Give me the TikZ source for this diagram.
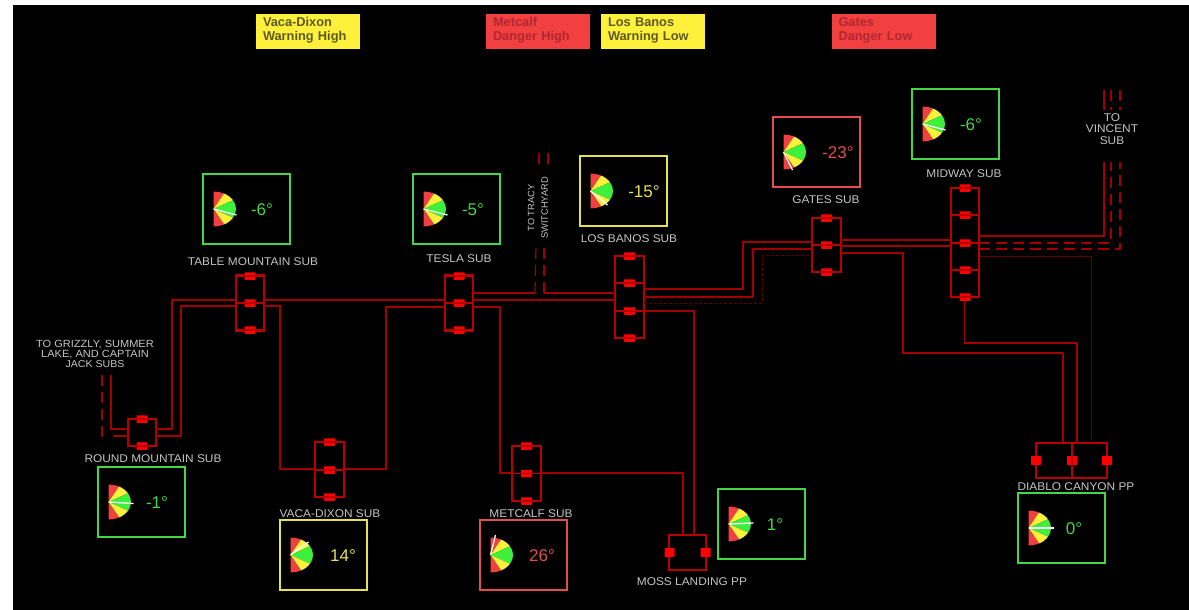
\documentclass[tikz,border=0pt]{standalone}
\usepackage{fontspec}
\usetikzlibrary{calc}
\setmainfont{Liberation Sans}
\newfontfamily\labfont[FakeStretch=1.06]{Liberation Sans}
\definecolor{bus}{HTML}{A00000}
\definecolor{busdim}{HTML}{600000}
\definecolor{busbright}{HTML}{B80000}
\definecolor{sqr}{HTML}{FF0000}
\definecolor{okc}{HTML}{44D644}
\definecolor{warnc}{HTML}{E6E24A}
\definecolor{dangc}{HTML}{E24E4E}
\definecolor{gred}{HTML}{F24040}
\definecolor{gyel}{HTML}{FFF03C}
\definecolor{ggrn}{HTML}{3CF03C}
\definecolor{lab}{HTML}{C4C4C4}
\definecolor{alred}{HTML}{B02830}
\definecolor{alyel}{HTML}{5C5A20}
\tikzset{
  busline/.style={draw=bus,line width=1.2pt},
  busdash/.style={busline,dash pattern=on 11pt off 6pt},
  busfaint/.style={draw=busdim,line width=1pt},
  busrect/.style={draw=busbright,line width=1.2pt,rectangle,inner sep=0pt,outer sep=0pt},
  sq/.style={fill=sqr,rectangle,rounded corners=0.6pt,inner sep=0pt,outer sep=0pt,minimum width=11pt,minimum height=7.5pt},
  sqv/.style={sq,minimum width=10pt,minimum height=9pt},
  gbox/.style={rectangle,draw,line width=1.5pt,fill=black,inner sep=0pt,outer sep=0pt,minimum width=87pt,minimum height=70pt},
  gval/.style={inner sep=0pt,font=\fontsize{17}{17}\selectfont},
  sublab/.style={text=lab,inner sep=0pt,align=center,font=\labfont\fontsize{11.2}{11.5}\selectfont},
  alertbox/.style={rectangle,inner sep=0pt,minimum width=104pt,minimum height=35pt,text width=90pt,text depth=19.8pt,align=left,font=\bfseries\fontsize{12.8}{14.5}\selectfont},
  alertw/.style={alertbox,fill=gyel,text=alyel},
  alertd/.style={alertbox,fill=gred,text=alred}
}
% name, left x, top y, colour, value x, value, needle dx, dy
\newcommand{\gaugebox}[8]{%
  \node[gbox,draw=#4,anchor=north west] (#1) at (#2,#3) {};
  \coordinate (#1c) at ($(#2,#3)+(10.5,35)$);
  \fill[gred] (#1c) -- ++(90:22.5pt and 17.5pt) arc[start angle=90,end angle=62,x radius=22.5pt,y radius=17.5pt] -- cycle;
  \fill[gyel] (#1c) -- ++(62:22.5pt and 17.5pt) arc[start angle=62,end angle=30,x radius=22.5pt,y radius=17.5pt] -- cycle;
  \fill[ggrn] (#1c) -- ++(30:22.5pt and 17.5pt) arc[start angle=30,end angle=-30,x radius=22.5pt,y radius=17.5pt] -- cycle;
  \fill[gyel] (#1c) -- ++(-30:22.5pt and 17.5pt) arc[start angle=-30,end angle=-62,x radius=22.5pt,y radius=17.5pt] -- cycle;
  \fill[gred] (#1c) -- ++(-62:22.5pt and 17.5pt) arc[start angle=-62,end angle=-90,x radius=22.5pt,y radius=17.5pt] -- cycle;
  \draw[white,line width=1.3pt] (#1c) -- ++(#7,#8);
  \node[gval,text=#4] (#1v) at ($(#2,#3)+(#5,36)$) {#6};
}
% vertical bus frame: name, left, top, right, bottom; squares named nameN
\newcommand{\busframe}[5]{%
  \node[busrect,minimum width={#4-#2},minimum height={#5-#3}] (#1) at ({(#2+#4)/2},{(#3+#5)/2}) {};
}
% square on a vertical frame with its cross bar: frame, index, y
\newcommand{\bussq}[3]{%
  \node[sq] (#1#2) at (#1.center |- 0,#3) {};
  \draw[draw=busbright,line width=1.2pt] (#1.west |- #1#2) -- (#1.east |- #1#2);
}
\begin{document}
\begin{tikzpicture}[x=1pt,y=-1pt]
\useasboundingbox (0,0) rectangle (1189,610);
\fill[white] (0,0) rectangle (1189,610);
\fill[black] (13,5) rectangle (1189,610);

% alerts
\node[alertw] (a1) at (308,31.5) {Vaca-Dixon\\Warning High};
\node[alertd] (a2) at (538,31.5) {Metcalf\\Danger High};
\node[alertw] (a3) at (653,31.5) {Los Banos\\Warning Low};
\node[alertd] (a4) at (883.5,31.5) {Gates\\Danger Low};

% bus frames
\busframe{rm}{128}{419}{156}{446}
\busframe{tm}{236}{275}{264}{331}
\busframe{ts}{445}{275}{473}{331}
\busframe{lb}{615}{256}{644}{338}
\busframe{gt}{812}{218}{841}{272}
\busframe{mw}{951}{188}{979}{297}
\busframe{vd}{315}{442}{344}{497}
\busframe{mc}{512}{446}{541}{501}
\busframe{ml}{669}{535}{706}{570}
\busframe{dc}{1036}{443}{1107}{478}

% free ends
\coordinate (griz1) at (102,375);
\coordinate (griz1b) at (102,437);
\coordinate (griz2) at (111,375);
\coordinate (griz3) at (113,436);
\coordinate (tr1) at (536,245);
\coordinate (tr2) at (544,245);
\coordinate (tr1t) at (539,153);
\coordinate (tr1u) at (539,166);
\coordinate (tr2t) at (548,153);
\coordinate (tr2u) at (548,166);
\coordinate (vi1) at (1104,162);
\coordinate (vi2) at (1111,162);
\coordinate (vi3) at (1120,162);

% connectors
\draw[busline] (griz2) -- (111,429) -- (rm.west |- 0,429);
\draw[busdash] (griz1) -- (griz1b);
\draw[busline] (griz3) -- (rm.west |- 0,436);
\draw[busline] (rm.east |- 0,429) -- (172,429) -- (172,300) -- (tm.west |- 0,300);
\draw[busline] (rm.east |- 0,436) -- (181,436) -- (181,306) -- (tm.west |- 0,306);
\draw[busline] (tm.east |- 0,300) -- (ts.west |- 0,300);
\draw[busline] (tm.east |- 0,306) -- (280,306) -- (280,469) -- (vd.west |- 0,469);
\draw[busline] (vd.east |- 0,469) -- (386,469) -- (386,307) -- (ts.west |- 0,307);
\draw[busline] (ts.east |- 0,300) -- (lb.west |- 0,300);
\draw[busline] (ts.east |- 0,293) -- (535,293);
\draw[busdash] (535,293) -- (tr1);
\draw[busline] (lb.west |- 0,293) -- (544,293);
\draw[busdash] (544,293) -- (tr2);
\draw[busdash] (tr1t) -- (tr1u);
\draw[busdash] (tr2t) -- (tr2u);
\draw[busline] (ts.east |- 0,307) -- (500,307) -- (500,473) -- (mc.west |- 0,473);
\draw[busline] (mc.east |- 0,473) -- (683,473) -- (683,535);
\draw[busline] (lb.east |- 0,311) -- (694,311) -- (694,535);
\draw[busline] (lb.east |- 0,289) -- (743,289) -- (743,242) -- (gt.west |- 0,242);
\draw[busline] (lb.east |- 0,297) -- (753,297) -- (753,249) -- (gt.west |- 0,249);
\draw[busfaint,dash pattern=on 3pt off 2pt] (lb.east |- 0,303) -- (762,303) -- (762,255) -- (gt.west |- 0,255);
\draw[busline] (gt.east |- 0,240) -- (mw.west |- 0,240);
\draw[busline] (gt.east |- 0,246) -- (mw.west |- 0,246);
\draw[busline] (gt.east |- 0,253) -- (903,253) -- (903,353) -- (1063,353) -- (1063,443);
\draw[busline] (mw.east |- 0,236) -- (1104,236) -- (vi1);
\draw[busdash] (mw.east |- 0,243) -- (1111,243) -- (vi2);
\draw[busdash] (mw.east |- 0,249) -- (1120,249) -- (vi3);
\draw[busline] (1104,90) -- (1104,110);
\draw[busdash] (1111,90) -- (1111,110);
\draw[busdash] (1120,90) -- (1120,110);
\draw[busfaint] (mw.east |- 0,256) -- (1091,256) -- (1091,443);
\draw[busline] (964.5,297) -- (964.5,343) -- (1077,343) -- (1077,443);

% frame squares
\bussq{rm}{1}{419}
\bussq{rm}{2}{446}
\bussq{tm}{1}{276}
\bussq{tm}{2}{303}
\bussq{tm}{3}{330}
\bussq{ts}{1}{276}
\bussq{ts}{2}{303}
\bussq{ts}{3}{330}
\bussq{lb}{1}{256}
\bussq{lb}{2}{283}
\bussq{lb}{3}{311}
\bussq{lb}{4}{338}
\bussq{gt}{1}{218}
\bussq{gt}{2}{245}
\bussq{gt}{3}{272}
\bussq{mw}{1}{188}
\bussq{mw}{2}{215}
\bussq{mw}{3}{243}
\bussq{mw}{4}{270}
\bussq{mw}{5}{297}
\bussq{vd}{1}{442}
\bussq{vd}{2}{470}
\bussq{vd}{3}{497}
\bussq{mc}{1}{446}
\bussq{mc}{2}{473.5}
\bussq{mc}{3}{501}
\node[sqv] (ml1) at (669.5,552.5) {};
\node[sqv] (ml2) at (705.5,552.5) {};
\node[sqv] (dc1) at (1036,460.5) {};
\node[sqv] (dc2) at (1072,460.5) {};
\node[sqv] (dc3) at (1107,460.5) {};
\draw[draw=busbright,line width=1.2pt] (1072,443) -- (1072,478);

% gauges
\gaugebox{gtm}{203}{174}{okc}{59}{-6°}{23}{6}
\gaugebox{gts}{413}{174}{okc}{60}{-5°}{24}{6}
\gaugebox{glb}{580}{156}{warnc}{64}{-15°}{17}{14}
\gaugebox{ggt}{773}{117}{dangc}{65}{-23°}{9}{18}
\gaugebox{gmw}{912}{89}{okc}{59}{-6°}{23}{6}
\gaugebox{grm}{98}{467}{okc}{59}{-1°}{25}{1.5}
\gaugebox{gvd}{280}{520}{warnc}{63}{14°}{18}{-13}
\gaugebox{gmc}{480}{520}{dangc}{62}{26°}{5}{-20}
\gaugebox{gml}{718}{489}{okc}{57}{1°}{25}{-1}
\gaugebox{gdc}{1018}{493}{okc}{56}{0°}{25}{0}

% labels
\node[sublab] (ltm) at (253,262) {TABLE MOUNTAIN SUB};
\node[sublab] (lts) at (459,259) {TESLA SUB};
\node[sublab] (llb) at (629,239) {LOS BANOS SUB};
\node[sublab] (lgt) at (826,200) {GATES SUB};
\node[sublab] (lmw) at (964,174) {MIDWAY SUB};
\node[sublab] (lvi) at (1112,129) {TO\\VINCENT\\SUB};
\node[sublab] (lrm) at (153,459) {ROUND MOUNTAIN SUB};
\node[sublab] (lvd) at (330,514) {VACA-DIXON SUB};
\node[sublab] (lmc) at (531,514) {METCALF SUB};
\node[sublab] (lml) at (692,582) {MOSS LANDING PP};
\node[sublab] (ldc) at (1076,487) {DIABLO CANYON PP};
\node[sublab,font=\labfont\fontsize{10.4}{10}\selectfont] (lgr) at (95,354) {TO GRIZZLY, SUMMER\\LAKE, AND CAPTAIN\\{\fontsize{10}{10}\selectfont JACK SUBS}};
\node[sublab,rotate=90,font=\fontsize{9.3}{13.5}\selectfont] (ltr) at (538,208) {TO TRACY\\SWITCHYARD};
\end{tikzpicture}
\end{document}
